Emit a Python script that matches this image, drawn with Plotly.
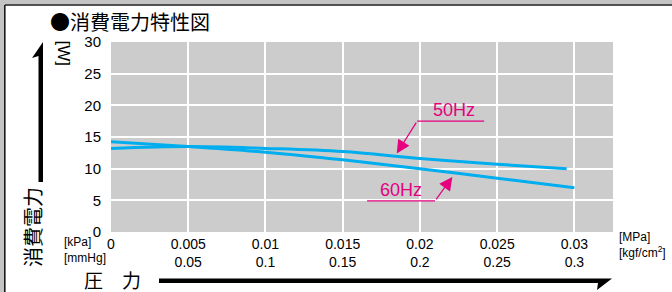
import plotly.graph_objects as go

# ---- data ----
pressure_50hz = [0, 0.005, 0.01, 0.015, 0.02, 0.025, 0.0295]
power_50hz = [13.2, 13.5, 13.2, 12.7, 11.6, 10.7, 10.0]
pressure_60hz = [0, 0.005, 0.01, 0.015, 0.02, 0.025, 0.030]
power_60hz = [14.25, 13.5, 12.6, 11.4, 10.0, 8.5, 7.0]

x_tickvals = [0, 0.005, 0.01, 0.015, 0.02, 0.025, 0.03]
mpa_labels = ["0", "0.005", "0.01", "0.015", "0.02", "0.025", "0.03"]
kgf_labels = ["", "0.05", "0.1", "0.15", "0.2", "0.25", "0.3"]
y_tickvals = [0, 5, 10, 15, 20, 25, 30]

W, H = 672, 292
L, R, T, B = 111, 613, 42, 232
FONT = "Liberation Sans, Arial, sans-serif"
CJK = "Noto Sans CJK JP, sans-serif"
LINE_COLOR = "#00aeef"
MAGENTA = "#e4007f"


def px(x):
    return (x - L) / (R - L)


def py(y):
    return (B - y) / (B - T)


fig = go.Figure()
fig.add_trace(go.Scatter(x=pressure_50hz, y=power_50hz, mode="lines",
                         line=dict(color=LINE_COLOR, width=3, shape="spline"),
                         name="50Hz", hoverinfo="skip"))
fig.add_trace(go.Scatter(x=pressure_60hz, y=power_60hz, mode="lines",
                         line=dict(color=LINE_COLOR, width=3, shape="spline"),
                         name="60Hz", hoverinfo="skip"))

ticktext = [m if not k else f"{m}<br>{k}" for m, k in zip(mpa_labels, kgf_labels)]

shapes = []
# outer frame
shapes.append(dict(type="rect", xref="paper", yref="paper", x0=px(0), x1=px(W), y0=py(0), y1=py(4.2),
                   fillcolor="#c4c4c4", line=dict(width=0), layer="above"))
shapes.append(dict(type="rect", xref="paper", yref="paper", x0=px(0), x1=px(4.2), y0=py(0), y1=py(H),
                   fillcolor="#c4c4c4", line=dict(width=0), layer="above"))
shapes.append(dict(type="line", xref="paper", yref="paper", x0=px(4.8), x1=px(W), y0=py(5), y1=py(5),
                   line=dict(color="#1a1a1a", width=1.6), layer="above"))
shapes.append(dict(type="line", xref="paper", yref="paper", x0=px(4.8), x1=px(4.8), y0=py(5), y1=py(H),
                   line=dict(color="#1a1a1a", width=1.6), layer="above"))

# vertical thick arrow (power)
shapes.append(dict(type="path", xref="paper", yref="paper",
                   path=(f"M {px(38.5)} {py(182)} L {px(43)} {py(182)} L {px(43)} {py(42)} "
                         f"L {px(32)} {py(58)} L {px(38.5)} {py(56)} Z"),
                   fillcolor="black", line=dict(width=0), layer="above"))
# horizontal thick arrow (pressure)
shapes.append(dict(type="path", xref="paper", yref="paper",
                   path=(f"M {px(159)} {py(278.5)} L {px(612)} {py(278.5)} L {px(597)} {py(290)} "
                         f"L {px(598)} {py(283)} L {px(159)} {py(283)} Z"),
                   fillcolor="black", line=dict(width=0), layer="above"))

# underline for labels (data coords)
shapes.append(dict(type="line", xref="x", yref="y", x0=0.01982, x1=0.02416, y0=17.5, y1=17.5,
                   line=dict(color=MAGENTA, width=1.2)))
shapes.append(dict(type="line", xref="x", yref="y", x0=0.01658, x1=0.02098, y0=4.9, y1=4.9,
                   line=dict(color=MAGENTA, width=1.2)))

annotations = []
annotations.append(dict(xref="x", yref="y", x=0.0222, y=19.3, text="50Hz", showarrow=False,
                        font=dict(family=FONT, size=18, color=MAGENTA)))
annotations.append(dict(xref="x", yref="y", x=0.01878, y=6.6, text="60Hz", showarrow=False,
                        font=dict(family=FONT, size=18, color=MAGENTA)))
annotations.append(dict(xref="x", yref="y", axref="x", ayref="y", x=0.0185, y=12.4,
                        ax=0.01982, ay=17.5, text="", showarrow=True, arrowhead=2,
                        arrowsize=2.2, arrowwidth=1.2, arrowcolor=MAGENTA, standoff=0))
annotations.append(dict(xref="x", yref="y", axref="x", ayref="y", x=0.0221, y=8.7,
                        ax=0.02098, ay=4.9, text="", showarrow=True, arrowhead=2,
                        arrowsize=2.2, arrowwidth=1.2, arrowcolor=MAGENTA, standoff=0))

# titles and units
annotations.append(dict(xref="paper", yref="paper", x=px(49), y=py(21), xanchor="left", yanchor="middle",
                        text="●消費電力特性図", showarrow=False, borderpad=0,
                        font=dict(family=CJK, size=20, color="black")))
annotations.append(dict(xref="paper", yref="paper", x=px(32), y=py(227), xanchor="center", yanchor="middle",
                        text="消費電力", textangle=-90, showarrow=False, borderpad=0,
                        font=dict(family=CJK, size=20, color="black")))
annotations.append(dict(xref="paper", yref="paper", x=px(112), y=py(279.5), xanchor="center", yanchor="middle",
                        text="圧　力", showarrow=False, borderpad=0,
                        font=dict(family=CJK, size=19, color="black")))
annotations.append(dict(xref="paper", yref="paper", x=px(62.5), y=py(53), xanchor="center", yanchor="middle",
                        text="[W]", textangle=90, showarrow=False, borderpad=0,
                        font=dict(family=FONT, size=17, color="black")))
annotations.append(dict(xref="paper", yref="paper", x=px(62), y=py(250), xanchor="left", yanchor="middle",
                        text="[kPa]<br>[mmHg]", align="left", showarrow=False,
                        font=dict(family=FONT, size=12, color="black")))
annotations.append(dict(xref="paper", yref="paper", x=px(617), y=py(245), xanchor="left", yanchor="middle",
                        text="[MPa]<br>[kgf/cm<sup>2</sup>]", align="left", showarrow=False,
                        font=dict(family=FONT, size=12, color="black")))

fig.update_layout(
    width=W, height=H,
    margin=dict(l=L, r=W - R, t=T, b=H - B, autoexpand=False),
    paper_bgcolor="white", plot_bgcolor="#cccccc",
    showlegend=False,
    shapes=shapes, annotations=annotations,
    xaxis=dict(range=[0, 0.0325], tickvals=x_tickvals, ticktext=ticktext,
               showgrid=True, gridcolor="white", gridwidth=1.5, zeroline=False, showline=False,
               ticks="", tickfont=dict(family=FONT, size=14, color="black"), ticklabelstandoff=2),
    yaxis=dict(range=[0, 30], tickvals=y_tickvals,
               showgrid=True, gridcolor="white", gridwidth=1.5, zeroline=False, showline=False,
               ticks="", tickfont=dict(family=FONT, size=15, color="black"), ticklabelstandoff=9),
)

fig.write_html("out.html", config={"displayModeBar": False},
               post_script="document.body.style.margin='0';document.body.style.padding='0';"
                           "document.body.style.overflow='hidden';")
